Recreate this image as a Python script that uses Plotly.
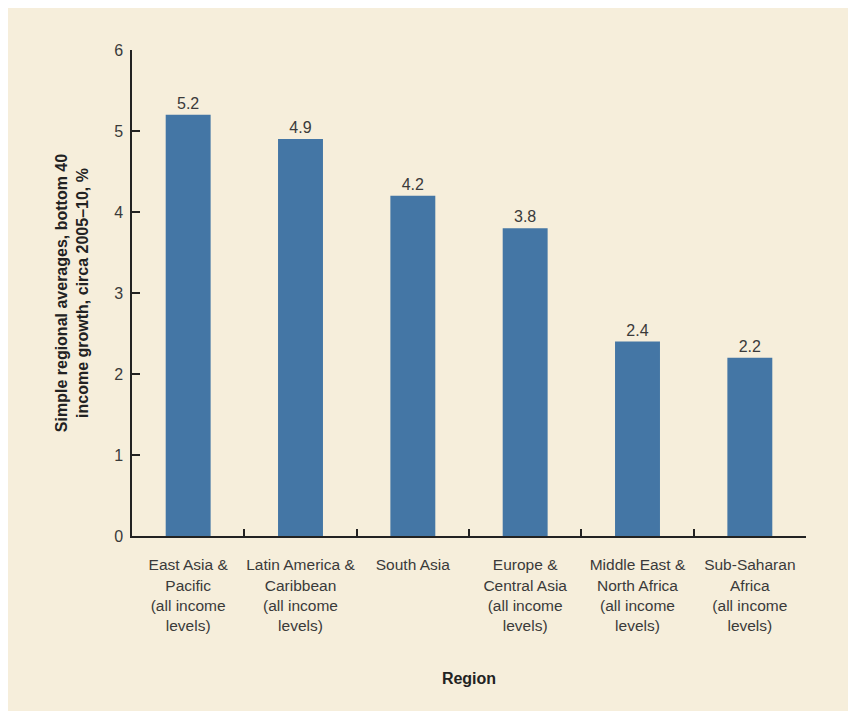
import plotly.graph_objects as go

regions = [
    "East Asia &<br>Pacific<br>(all income<br>levels)",
    "Latin America &<br>Caribbean<br>(all income<br>levels)",
    "South Asia",
    "Europe &<br>Central Asia<br>(all income<br>levels)",
    "Middle East &<br>North Africa<br>(all income<br>levels)",
    "Sub-Saharan<br>Africa<br>(all income<br>levels)",
]
growth = [5.2, 4.9, 4.2, 3.8, 2.4, 2.2]
growth_labels = ["5.2", "4.9", "4.2", "3.8", "2.4", "2.2"]
y_ticks = [0, 1, 2, 3, 4, 5, 6]

FONT = "Liberation Sans, Arial, sans-serif"
TXT = "#3a3a3a"
CREAM = "#f6eedb"

fig = go.Figure(
    go.Bar(
        x=regions,
        y=growth,
        text=growth_labels,
        textposition="outside",
        textfont=dict(family=FONT, size=16, color=TXT),
        marker=dict(color="#4476a5", line=dict(width=0)),
        cliponaxis=False,
    )
)

fig.update_layout(
    width=848,
    height=711,
    paper_bgcolor=CREAM,
    plot_bgcolor=CREAM,
    margin=dict(l=124, r=50, t=42, b=183, autoexpand=False),
    bargap=0.6,
    showlegend=False,
    font=dict(family=FONT, size=16, color=TXT),
)

fig.update_xaxes(
    type="category",
    tickson="boundaries",
    ticks="inside",
    ticklen=7,
    tickwidth=1.5,
    tickcolor="#222",
    showline=True,
    linecolor="#222",
    linewidth=1.5,
    showgrid=False,
    tickangle=0,
    automargin=False,
    tickfont=dict(family=FONT, size=15.5, color=TXT),
    ticklabelstandoff=14,
    title=dict(
        text="<b>Region</b>",
        font=dict(family=FONT, size=16, color="#222"),
        standoff=40,
    ),
)

fig.update_yaxes(
    range=[0, 6],
    tickvals=y_ticks,
    ticks="inside",
    ticklen=8,
    tickwidth=1.5,
    tickcolor="#222",
    showline=True,
    linecolor="#222",
    linewidth=1.5,
    showgrid=False,
    zeroline=False,
    automargin=False,
    tickfont=dict(family=FONT, size=16, color=TXT),
    ticklabelstandoff=4,
    title=dict(
        text="<b>Simple regional averages, bottom 40<br>income growth, circa 2005–10, %</b>",
        font=dict(family=FONT, size=16, color="#222"),
        standoff=22,
    ),
)

post = "document.body.style.margin='8px 0 0 8px';"
fig.write_html("out.html", post_script=post)
